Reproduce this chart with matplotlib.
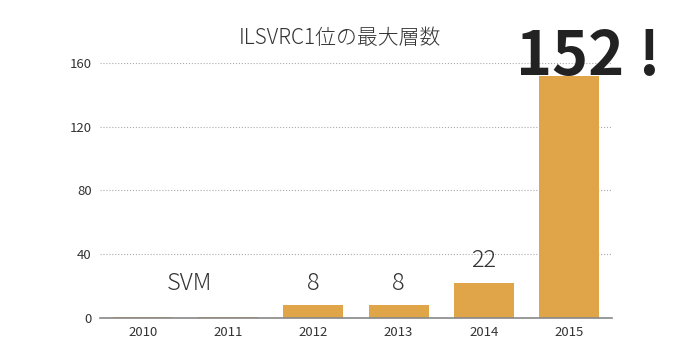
import numpy as np
import matplotlib
matplotlib.use('Agg')
import matplotlib.pyplot as plt

years = ['2010', '2011', '2012', '2013', '2014', '2015']
layers = [0.8, 0.8, 8, 8, 22, 152]
labels = ['', '', '8', '8', '22', '']
yticks = [0, 40, 80, 120, 160]

plt.rcParams['font.family'] = ['Noto Sans CJK JP', 'DejaVu Sans']

fig = plt.figure(figsize=(6.8, 3.6), dpi=100)
ax = fig.add_axes([0.147, 0.117, 0.753, 0.708])

x = np.arange(len(years))
ax.bar(x, layers, width=0.7, color='#DFA548', zorder=2)
ax.set_xlim(-0.5, len(years) - 0.5)
ax.set_ylim(0, 160)
ax.set_yticks(yticks)
ax.set_xticks(x)
ax.set_xticklabels(years)
ax.tick_params(length=0, labelsize=9.5, colors='#333333', pad=6)
ax.yaxis.grid(True, linestyle=':', color='#aaaaaa', linewidth=0.8, zorder=0)
for s in ['top', 'right', 'left']:
    ax.spines[s].set_visible(False)
ax.spines['bottom'].set_color('#888888')
ax.spines['bottom'].set_linewidth(1.2)

for xi, v, t in zip(x, layers, labels):
    if t:
        ax.text(xi, v + 6, t, ha='center', va='bottom', fontsize=17,
                fontweight='light', color='#333333')
ax.text(0.55, 14, 'SVM', ha='center', va='bottom', fontsize=17,
        fontweight='light', color='#333333')
ax.text(4.38, 144, '152 !', ha='left', va='bottom', fontsize=44,
        fontweight='bold', color='#222222', clip_on=False)

fig.text(0.5, 0.895, 'ILSVRC1位の最大層数', ha='center', va='center',
         fontsize=15, fontweight='light', color='#333333')

fig.savefig('out.png', dpi=100)
